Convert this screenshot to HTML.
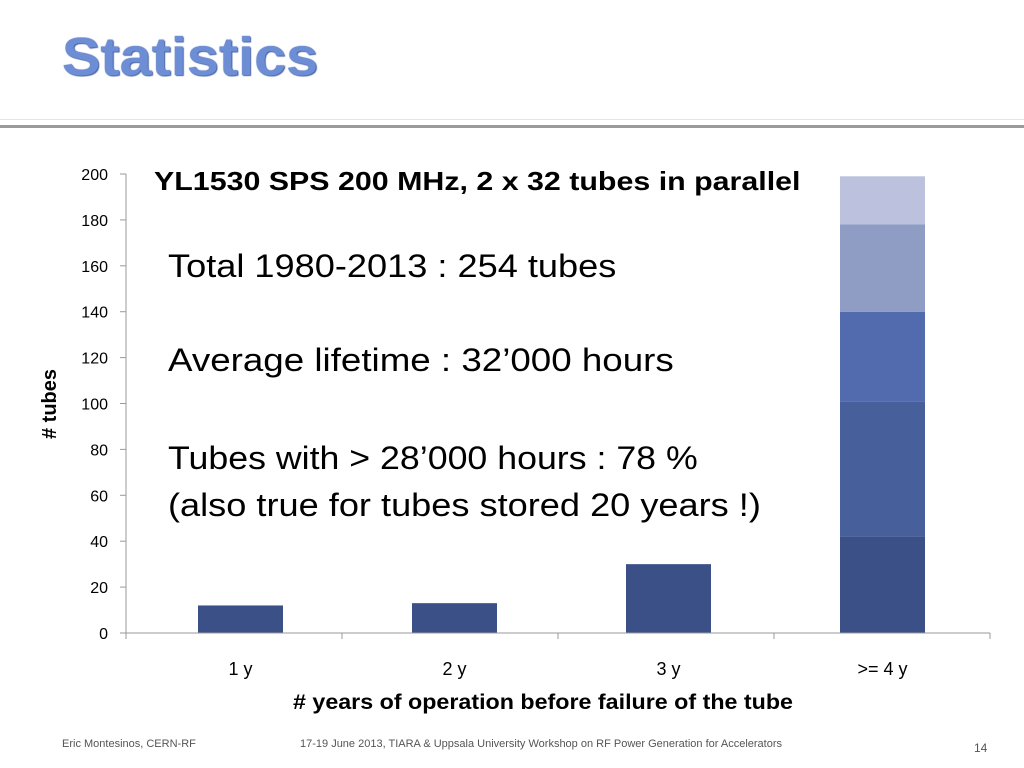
<!DOCTYPE html>
<html><head><meta charset="utf-8"><style>
body{margin:0;width:1024px;height:768px;background:#fff;font-family:"Liberation Sans",sans-serif;overflow:hidden;position:relative}
.t{position:absolute;white-space:nowrap;transform-origin:0 0}
.n{transform:scaleX(1.13)}
</style></head><body>
<div class="t" style="left:62px;top:26px;font-size:54px;font-weight:bold;color:#6d8ed4;text-shadow:0 0 1px #3c5ca8,1px 1px 1px #4a66aa;transform:scaleX(1.067)">Statistics</div>
<div style="position:absolute;left:0;top:119px;width:1024px;height:1px;background:#e4e4e4"></div>
<div style="position:absolute;left:0;top:125px;width:1024px;height:3px;background:#9a9a9a"></div>
<svg id="chart" width="1024" height="768" style="position:absolute;left:0;top:0" font-family="Liberation Sans, sans-serif"></svg>
<div class="t" style="left:154px;top:166px;font-size:26px;font-weight:bold;color:#000;transform:scaleX(1.168)">YL1530 SPS 200 MHz, 2 x 32 tubes in parallel</div>
<div class="t n" style="left:168px;top:248px;font-size:32px">Total 1980-2013 : 254 tubes</div>
<div class="t n" style="left:168px;top:342px;font-size:32px;transform:scaleX(1.148)">Average lifetime : 32’000 hours</div>
<div class="t n" style="left:168px;top:440px;font-size:32px;transform:scaleX(1.116)">Tubes with &gt; 28’000 hours : 78 %</div>
<div class="t n" style="left:168px;top:487px;font-size:32px">(also true for tubes stored 20 years !)</div>
<div class="t" style="left:62px;top:738px;font-size:11px;color:#555">Eric Montesinos, CERN-RF</div>
<div class="t" style="left:300px;top:738px;font-size:11px;color:#555;transform:scaleX(1.0)">17-19 June 2013, TIARA &amp; Uppsala University Workshop on RF Power Generation for Accelerators</div>
<div class="t" style="left:974px;top:741px;font-size:12px;color:#555">14</div>
<script>
const categories=["1 y","2 y","3 y",">= 4 y"];
const seriesA=[12,13,30,42];
const seriesB=[0,0,0,59];
const seriesC=[0,0,0,39];
const seriesD=[0,0,0,38];
const seriesE=[0,0,0,21];
const yTicks=[0,20,40,60,80,100,120,140,160,180,200];
const colors=["#3b5086","#47609b","#526bae","#8f9dc5","#bcc2de"];
const svg=document.getElementById('chart');const NS="http://www.w3.org/2000/svg";
const x0=126,x1=990,y0=633,y1=174,yMax=200;
const y=v=>y0-(v/yMax)*(y0-y1);
const band=(x1-x0)/categories.length;
const bx=i=>x0+i*band;
const barBand=(x1-x0-8)/categories.length;
const barLeft=i=>x0+72+i*barBand;
function mk(t,a){const e=document.createElementNS(NS,t);for(const k in a)e.setAttribute(k,a[k]);svg.appendChild(e);return e;}
yTicks.forEach(v=>{
 const l=mk('line',{x1:120,x2:126,y1:y(v),y2:y(v),stroke:'#999'});
 
 
 const t=mk('text',{x:108,y:y(v)+6,'text-anchor':'end','font-size':16});t.textContent=v;
 
 
});
const series=[seriesA,seriesB,seriesC,seriesD,seriesE];
categories.forEach((c,i)=>{
 let acc=0;const bw=85,left=barLeft(i);
 series.forEach((s,k)=>{
  if(s[i]>0){const r=mk('rect',{x:left,y:y(acc+s[i]),width:bw,height:y(acc)-y(acc+s[i]),fill:colors[k]});
  
  }
  acc+=s[i];
 });
 const t=mk('text',{x:left+bw/2,y:675,'text-anchor':'middle','font-size':18});t.textContent=c;
 
 
});
for(let i=0;i<=categories.length;i++){const l=mk('line',{x1:bx(i),x2:bx(i),y1:y0,y2:y0+6,stroke:'#999'});

}
const ya=mk('line',{x1:x0,x2:x0,y1:y1,y2:y0,stroke:'#999'});


const xa=mk('line',{x1:x0,x2:x1,y1:y0,y2:y0,stroke:'#999'});


const yt=mk('text',{x:56,y:404,'text-anchor':'middle','font-size':20,'font-weight':'bold',transform:'rotate(-90 56 404)'});yt.textContent='# tubes';


const xt=mk('text',{x:543,y:709,'text-anchor':'middle','font-size':21,'font-weight':'bold',textLength:500,lengthAdjust:'spacingAndGlyphs'});xt.textContent='# years of operation before failure of the tube';


</script>
</body></html>
